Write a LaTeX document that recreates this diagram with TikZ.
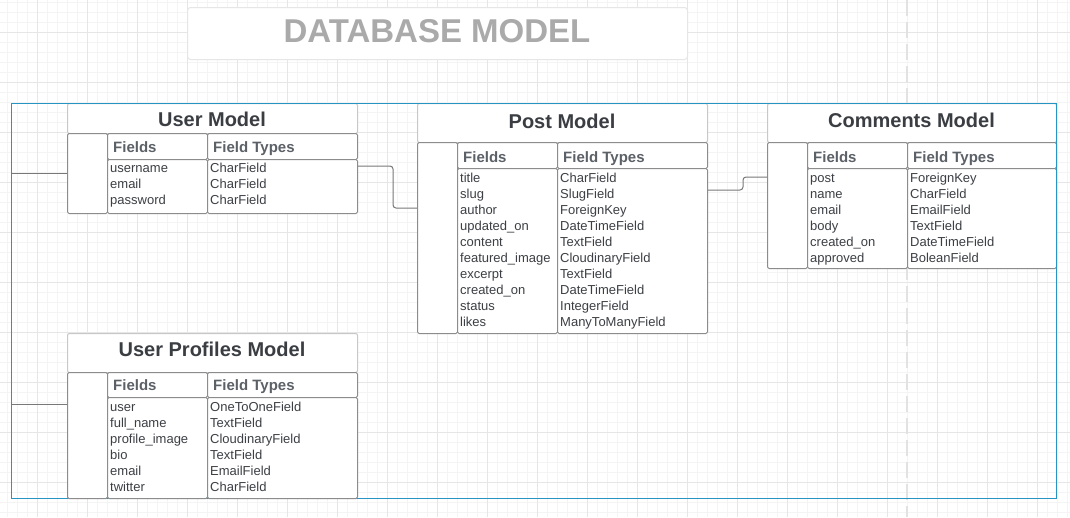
\documentclass[tikz,border=0pt]{standalone}
\usepackage{fontspec}
\setmainfont{Liberation Sans}
\usetikzlibrary{calc}
\definecolor{gridminor}{RGB}{244,244,244}
\definecolor{gridmajor}{RGB}{230,230,230}
\definecolor{dashgray}{RGB}{226,226,226}
\definecolor{cellline}{RGB}{140,140,140}
\definecolor{titleline}{RGB}{200,200,200}
\definecolor{framecol}{RGB}{40,148,196}
\definecolor{titletxt}{RGB}{58,61,66}
\definecolor{headtxt}{RGB}{92,97,104}
\definecolor{bodytxt}{RGB}{60,63,68}
\definecolor{bigtitle}{RGB}{170,170,170}
\definecolor{connline}{RGB}{120,120,120}
\tikzset{
  minorgrid/.style={draw=gridminor, line width=0.6pt},
  majorgrid/.style={draw=gridmajor, line width=1pt},
  dashline/.style={draw=dashgray, line width=2pt, dash pattern=on 16pt off 6pt},
  cell/.style={draw=cellline, line width=1pt, rounded corners=1.5pt, fill=white, inner sep=0pt, anchor=north west},
  titlecell/.style={draw=titleline, line width=1pt, rounded corners=2pt, fill=white, inner sep=0pt, anchor=north west},
  modeltitle/.style={anchor=base, inner sep=0pt, text=titletxt, font=\fontsize{20}{20}\selectfont\bfseries},
  headtext/.style={anchor=base west, inner sep=0pt, text=headtxt, font=\fontsize{15}{15}\selectfont\bfseries},
  rowtext/.style={anchor=base west, inner sep=0pt, text=bodytxt, font=\fontsize{13}{13}\selectfont},
  conn/.style={draw=connline, line width=1pt, rounded corners=3pt},
  framebox/.style={draw=framecol, line width=1.3pt, inner sep=0pt, anchor=north west}
}
\begin{document}
\begin{tikzpicture}[x=1pt,y=-1pt]
\useasboundingbox (0,0) rectangle (1070,517);
\fill[white] (0,0) rectangle (1070,517);
% background grid
\foreach \x in {7,17,...,1067} \draw[minorgrid] (\x,0) -- (\x,517);
\foreach \y in {2,12,...,512} \draw[minorgrid] (0,\y) -- (1070,\y);
\foreach \x in {37,87,...,1037} \draw[majorgrid] (\x,0) -- (\x,517);
\foreach \y in {32,82,...,482} \draw[majorgrid] (0,\y) -- (1070,\y);
\draw[dashline] (907,0) -- (907,517);

% main title
\node[titlecell, draw=gridmajor, rounded corners=3pt, minimum width=500, minimum height=52] (title-box) at (187,7) {};
\node[anchor=base, inner sep=0pt, text=bigtitle, font=\fontsize{33}{33}\selectfont\bfseries] (title-text) at (437,42) {DATABASE MODEL};

% ---------- User Model ----------
\node[titlecell, minimum width=290, minimum height=30] (u-title) at (67,103) {};
\node[modeltitle] (u-title-text) at (212,126) {User Model};
\node[cell, minimum width=40, minimum height=80] (u-key) at (67,133) {};
\node[cell, minimum width=100, minimum height=26] (u-fh) at (107,133) {};
\node[cell, minimum width=150, minimum height=26] (u-th) at (207,133) {};
\node[cell, minimum width=100, minimum height=54] (u-fb) at (107,159) {};
\node[cell, minimum width=150, minimum height=54] (u-tb) at (207,159) {};
\node[headtext] (u-fh-text) at (113,152) {Fields};
\node[headtext] (u-th-text) at (213,152) {Field Types};
\foreach \f/\t [count=\i] in {username/CharField, email/CharField, password/CharField}{
  \node[rowtext] (u-f\i) at (110,{172+16*(\i-1)}) {\f};
  \node[rowtext] (u-t\i) at (210,{172+16*(\i-1)}) {\t};
}

% ---------- Post Model ----------
\node[titlecell, minimum width=290, minimum height=39] (p-title) at (417,103) {};
\node[modeltitle] (p-title-text) at (562,128) {Post Model};
\node[cell, minimum width=40, minimum height=191] (p-key) at (417,142) {};
\node[cell, minimum width=100, minimum height=26] (p-fh) at (457,142) {};
\node[cell, minimum width=150, minimum height=26] (p-th) at (557,142) {};
\node[cell, minimum width=100, minimum height=165] (p-fb) at (457,168) {};
\node[cell, minimum width=150, minimum height=165] (p-tb) at (557,168) {};
\node[headtext] (p-fh-text) at (463,162) {Fields};
\node[headtext] (p-th-text) at (563,162) {Field Types};
\foreach \f/\t [count=\i] in {title/CharField, slug/SlugField, author/ForeignKey, updated\_on/DateTimeField, content/TextField, featured\_image/CloudinaryField, excerpt/TextField, created\_on/DateTimeField, status/IntegerField, likes/ManyToManyField}{
  \node[rowtext] (p-f\i) at (460,{182+16*(\i-1)}) {\f};
  \node[rowtext] (p-t\i) at (560,{182+16*(\i-1)}) {\t};
}

% ---------- Comments Model ----------
\node[titlecell, minimum width=289, minimum height=39] (c-title) at (767,103) {};
\node[modeltitle] (c-title-text) at (911.5,127) {Comments Model};
\node[cell, minimum width=40, minimum height=126] (c-key) at (767,142) {};
\node[cell, minimum width=100, minimum height=26] (c-fh) at (807,142) {};
\node[cell, minimum width=149, minimum height=26] (c-th) at (907,142) {};
\node[cell, minimum width=100, minimum height=100] (c-fb) at (807,168) {};
\node[cell, minimum width=149, minimum height=100] (c-tb) at (907,168) {};
\node[headtext] (c-fh-text) at (813,162) {Fields};
\node[headtext] (c-th-text) at (913,162) {Field Types};
\foreach \f/\t [count=\i] in {post/ForeignKey, name/CharField, email/EmailField, body/TextField, created\_on/DateTimeField, approved/BoleanField}{
  \node[rowtext] (c-f\i) at (810,{182+16*(\i-1)}) {\f};
  \node[rowtext] (c-t\i) at (910,{182+16*(\i-1)}) {\t};
}

% ---------- frame ----------
\node[framebox, minimum width=1045, minimum height=395] (frame) at (11,103) {};

% ---------- User Profiles Model ----------
\node[titlecell, minimum width=290, minimum height=39] (up-title) at (67,333) {};
\node[modeltitle] (up-title-text) at (212,356) {User Profiles Model};
\node[cell, minimum width=40, minimum height=126] (up-key) at (67,372) {};
\node[cell, minimum width=100, minimum height=25] (up-fh) at (107,372) {};
\node[cell, minimum width=150, minimum height=25] (up-th) at (207,372) {};
\node[cell, minimum width=100, minimum height=101] (up-fb) at (107,397) {};
\node[cell, minimum width=150, minimum height=101] (up-tb) at (207,397) {};
\node[headtext] (up-fh-text) at (113,390) {Fields};
\node[headtext] (up-th-text) at (213,390) {Field Types};
\foreach \f/\t [count=\i] in {user/OneToOneField, full\_name/TextField, profile\_image/CloudinaryField, bio/TextField, email/EmailField, twitter/CharField}{
  \node[rowtext] (up-f\i) at (110,{411+16*(\i-1)}) {\f};
  \node[rowtext] (up-t\i) at (210,{411+16*(\i-1)}) {\t};
}

% ---------- connectors ----------
\coordinate (u-out) at ($(u-tb.north east)+(0,7)$);
\coordinate (p-in) at ($(p-key.north west)+(0,66)$);
\coordinate (p-out) at ($(p-tb.north east)+(0,22)$);
\coordinate (c-in) at ($(c-key.north west)+(0,35)$);
\coordinate (up-in) at ($(up-key.north west)+(0,32)$);
\draw[conn] (frame.west |- u-key.west) -- (u-key.west);
\draw[conn] (frame.west |- up-in) -- (up-in);
\draw[conn] (u-out) -- ++(35,0) |- (p-in);
\draw[conn] (p-out) -- ++(35,0) |- (c-in);
\end{tikzpicture}
\end{document}
